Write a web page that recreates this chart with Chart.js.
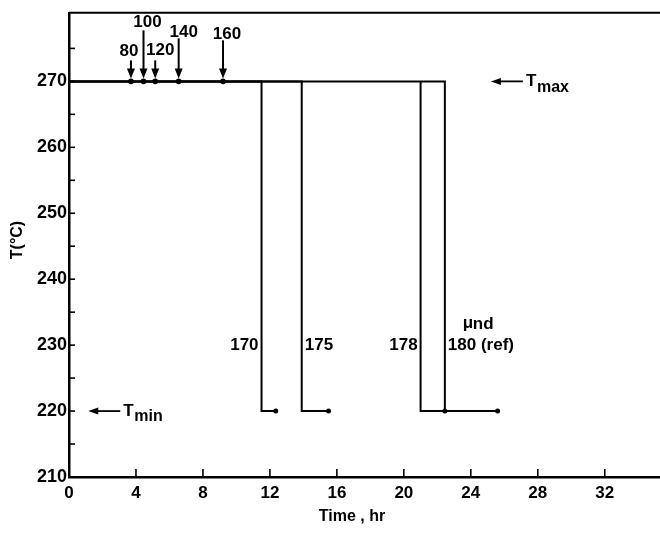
<!DOCTYPE html>
<html>
<head>
<meta charset="utf-8">
<script src="https://cdn.jsdelivr.net/npm/chart.js@4.4.0/dist/chart.umd.min.js"></script>
<style>
  html, body { margin: 0; padding: 0; background: #fff; }
  #wrap { width: 660px; height: 533px; }
</style>
</head>
<body>
<div id="wrap"><canvas id="chart" width="660" height="533"></canvas></div>
<script>
// temperature levels
const T_MAX = 270;
const T_MIN = 220;

// switch-over runs (mu_nd), time where T drops and where the run ends
const runLabels = ["170", "175", "178", "180 (ref)"];
const runStart = [0, 0, 21.0, 0];
const runSwitch = [11.5, 13.9, 21.0, 22.45];
const runEnd = [12.35, 15.5, 22.45, 25.6];

// runs that never left T_max (arrow markers)
const markLabels = ["80", "100", "120", "140", "160"];
const markTimes = [3.7, 4.45, 5.15, 6.55, 9.2];

// axes
const xTicks = [0, 4, 8, 12, 16, 20, 24, 28, 32];
const yTicks = [210, 220, 230, 240, 250, 260, 270];

const FONT = "'Liberation Sans', 'DejaVu Sans', sans-serif";

// label placement for the arrows (pixels, style only)
const markStyle = [
    { len: 18, gap: 9, dx: -2 },
    { len: 48, gap: 8, dx: 4 },
    { len: 18, gap: 10, dx: 5 },
    { len: 40, gap: 6, dx: 5 },
    { len: 38, gap: 6, dx: 4 }
];
// run label side: -1 left of the drop, +1 right
const runSide = [-1, 1, -1, 1];

const datasets = runLabels.map((lab, i) => ({
    label: lab,
    data: [
        { x: runStart[i], y: T_MAX },
        { x: runSwitch[i], y: T_MAX },
        { x: runSwitch[i], y: T_MIN },
        { x: runEnd[i], y: T_MIN }
    ],
    borderColor: "#000",
    backgroundColor: "#000",
    borderWidth: 2,
    pointRadius: [0, 0, 0, 2.5],
    pointBorderWidth: 0,
    fill: false,
    tension: 0
}));

datasets.push({
    label: "markers",
    data: markTimes.map(t => ({ x: t, y: T_MAX })),
    showLine: false,
    pointRadius: 2.8,
    pointBorderWidth: 0,
    backgroundColor: "#000",
    borderColor: "#000"
});

function arrowHead(ctx, x, y, dir) {
    // dir: "down" or "left", tip at (x, y)
    ctx.beginPath();
    if (dir === "down") {
        ctx.moveTo(x, y);
        ctx.lineTo(x - 4, y - 10);
        ctx.lineTo(x + 4, y - 10);
    } else {
        ctx.moveTo(x, y);
        ctx.lineTo(x + 10, y - 3.5);
        ctx.lineTo(x + 10, y + 3.5);
    }
    ctx.closePath();
    ctx.fill();
}

const decor = {
    id: "decor",
    afterDraw(chart) {
        const ctx = chart.ctx;
        const xs = chart.scales.x, ys = chart.scales.y;
        const area = chart.chartArea;
        ctx.save();
        ctx.strokeStyle = "#000";
        ctx.fillStyle = "#000";

        // top frame line
        ctx.lineWidth = 2;
        ctx.beginPath();
        ctx.moveTo(area.left, area.top);
        ctx.lineTo(chart.width, area.top);
        ctx.stroke();

        // inward ticks
        ctx.lineWidth = 1.6;
        for (let v = 215; v <= 275; v += 5) {
            const py = ys.getPixelForValue(v);
            ctx.beginPath();
            ctx.moveTo(area.left, py);
            ctx.lineTo(area.left + 6, py);
            ctx.stroke();
        }
        xTicks.forEach(v => {
            const px = xs.getPixelForValue(v);
            ctx.beginPath();
            ctx.moveTo(px, area.bottom);
            ctx.lineTo(px, area.bottom - 8);
            ctx.stroke();
        });

        // arrows for runs still at T_max
        ctx.font = "bold 17px " + FONT;
        ctx.textAlign = "center";
        ctx.textBaseline = "middle";
        markTimes.forEach((t, i) => {
            const px = xs.getPixelForValue(t);
            const py = ys.getPixelForValue(T_MAX) - 3;
            const s = markStyle[i];
            const top = py - s.len;
            ctx.lineWidth = 2;
            ctx.beginPath();
            ctx.moveTo(px, top);
            ctx.lineTo(px, py - 8);
            ctx.stroke();
            arrowHead(ctx, px, py, "down");
            ctx.fillText(markLabels[i], px + s.dx, top - s.gap);
        });

        // labels on the drops
        const ly = ys.getPixelForValue(230);
        runLabels.forEach((lab, i) => {
            const px = xs.getPixelForValue(runSwitch[i]);
            ctx.textAlign = runSide[i] < 0 ? "right" : "left";
            ctx.fillText(lab, px + runSide[i] * 3, ly);
        });
        ctx.textAlign = "left";
        ctx.fillText("\u03bc", xs.getPixelForValue(runSwitch[3]) + 18, ly - 22);
        ctx.fillText("nd", xs.getPixelForValue(runSwitch[3]) + 28, ly - 21);

        // T_max / T_min pointers
        const drawLimit = (xv, yv, main, sub) => {
            const px = xs.getPixelForValue(xv);
            const py = ys.getPixelForValue(yv);
            ctx.lineWidth = 1.8;
            ctx.beginPath();
            ctx.moveTo(px + 8, py);
            ctx.lineTo(px + 32, py);
            ctx.stroke();
            arrowHead(ctx, px, py, "left");
            ctx.font = "bold 17px " + FONT;
            ctx.textAlign = "left";
            ctx.fillText(main, px + 35, py);
            ctx.font = "bold 16px " + FONT;
            ctx.fillText(sub, px + 46, py + 6);
        };
        drawLimit(25.2, T_MAX, "T", "max");
        drawLimit(1.15, T_MIN, "T", "min");

        // axis titles
        ctx.font = "bold 16px " + FONT;
        ctx.textAlign = "center";
        ctx.fillText("Time , hr", 352, 517);
        ctx.save();
        ctx.translate(18, 240);
        ctx.rotate(-Math.PI / 2);
        ctx.fillText("T(\u00b0C)", 0, 0);
        ctx.restore();

        ctx.restore();
    }
};

new Chart(document.getElementById("chart"), {
    type: "line",
    data: { datasets: datasets },
    options: {
        responsive: false,
        animation: false,
        devicePixelRatio: 1,
        layout: { autoPadding: false, padding: { top: 11, right: 0, left: 0, bottom: 0 } },
        plugins: { legend: { display: false }, tooltip: { enabled: false } },
        scales: {
            x: {
                type: "linear",
                min: 0,
                max: 35.3,
                afterFit: s => { s.height = 56; },
                afterBuildTicks: s => { s.ticks = xTicks.map(v => ({ value: v })); },
                ticks: { color: "#000", font: { family: FONT, size: 17, weight: "bold" }, padding: 6, maxRotation: 0 },
                grid: { display: true, drawOnChartArea: false, drawTicks: false },
                border: { display: true, color: "#000", width: 2.5 }
            },
            y: {
                type: "linear",
                min: 210,
                max: 280.4,
                afterFit: s => { s.width = 69; },
                afterBuildTicks: s => { s.ticks = yTicks.map(v => ({ value: v })); },
                ticks: { color: "#000", font: { family: FONT, size: 18, weight: "bold" }, padding: 2 },
                grid: { display: true, drawOnChartArea: false, drawTicks: false },
                border: { display: true, color: "#000", width: 2.5 }
            }
        }
    },
    plugins: [decor]
});
</script>
</body>
</html>
